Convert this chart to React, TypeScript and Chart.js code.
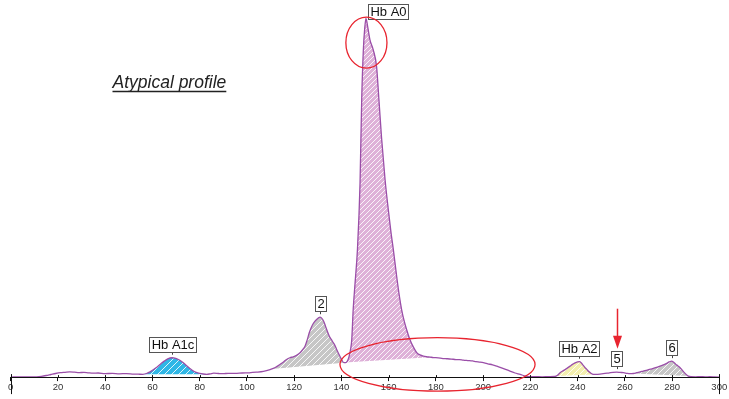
import React, { useEffect, useRef } from 'react';
import { Chart, registerables } from 'chart.js';

Chart.register(...registerables);

// Chromatogram trace: retention time (s) and detector signal
const retentionTime = [
  0, 4, 8, 11, 13, 15, 17, 19, 21, 23, 25, 27, 29, 31, 33, 35, 37, 40, 43, 46, 49, 52, 54, 56,
  57.5, 59, 60.5, 62, 63.5, 65, 66.5, 68.3, 69.5, 71, 72.5, 74, 75.5, 77, 78.5, 80, 81.5, 83,
  84.5, 86, 88, 90, 92, 95, 98, 101, 104, 107, 109.8, 112, 114, 115.5, 116.8, 118.2, 119.6, 121,
  122.5, 123.6, 124.6, 125.5, 126.4, 127.3, 128.1, 129.5, 131, 132.1, 133, 133.5, 134.9, 135.8,
  136.6, 137.3, 138, 138.9, 139.7, 140.4, 141.1, 141.7, 142.2, 142.8, 143.3, 143.9, 144.4, 145,
  145.8, 146.8, 147.9, 148.6, 149.3, 149.9, 150.4, 151.2, 152.1, 153.5, 154.9, 155.9, 157, 158.5,
  160, 161, 162, 163.4, 164.5, 165.5, 166.5, 167.6, 169, 170.5, 171.9, 173.3, 174.7, 176, 177.5,
  179, 181, 183, 184.6, 186.5, 188.5, 190, 191.6, 193.5, 195.5, 197, 198.7, 200.5, 202, 204,
  205.8, 207.5, 209.5, 211.4, 213.5, 215.7, 217.5, 219.9, 222, 225, 228, 230.4, 231.5, 232.6,
  234, 235, 236.8, 238, 239.2, 240.7, 241.6, 242.3, 243.1, 243.9, 244.6, 245.3, 246.7, 248.5,
  250.9, 253.5, 255, 256.6, 258, 259.5, 261, 262.2, 263.6, 265, 266.5, 267.8, 269.5, 271, 273,
  274.9, 276.3, 277.5, 278.8, 279.8, 280.7, 281.5, 282.5, 283.4, 284.3, 285.2, 286.2, 286.9, 288,
  290, 292, 294, 296, 298, 300,
];
const signal = [
  0, 0.2, 0.1, 0.3, 0.8, 1.6, 2.6, 3.6, 4.4, 4.8, 5.2, 4.9, 4.5, 4.7, 4.2, 3.9, 4.1, 3.5, 3.7, 3.3, 3.5, 3.0, 2.9, 2.8,
  3.6, 5.2, 7.6, 10.2, 13.2, 16, 18.3, 19.4, 19.1, 17.6, 15.4, 12.4, 9.3, 6.6, 4.8, 3.7, 3.1, 2.8,
  3.3, 3.9, 3.6, 3.4, 3.8, 3.7, 4.1, 4.3, 4.9, 5.8, 7.6, 9.6, 12.7, 15.2, 17.7, 19.4, 20.3, 21.8,
  24.4, 27.5, 31, 37, 44.4, 50, 53.7, 57.7, 60, 57.7, 53, 49.4, 41, 37.5,
  34.4, 31.5, 27.7, 23.2, 19.4, 16.2, 14.4, 14.5, 15, 17.3, 21, 28, 37.7, 67.7,
  94.4, 127.7, 194.4, 277.7, 327.7, 350, 359.4, 350, 337.7, 327.7, 311, 277.7, 240, 197.7,
  165, 145, 127.7, 101, 82, 67.7, 57, 47.7, 37.7, 30, 24.4, 22.2, 21, 20.4, 20,
  19.6, 19.2, 18.6, 18.4, 18.1, 17.6, 17.5, 17, 16.6, 16.2, 15.5, 15, 14.2, 13.3, 12.3,
  11, 9.6, 7.8, 6, 4.1, 2.7, 1.3, 0.4, 0.5, 0.3, 0.5, 0.6, 1.8, 4.4,
  6.5, 8, 11, 13, 14.6, 15.4, 14.2, 12, 9.6, 7.7, 5.8, 4.5, 2.7, 2.8,
  3.4, 4.3, 4.8, 5, 4.7, 4.4, 3.7, 3.4, 3.6, 4.4, 5.2, 6, 7, 8, 9.4,
  11, 12.3, 13.5, 15.2, 16, 14.8, 13, 11.2, 9.4, 7, 4.5, 2.2, 1, 0.4,
  0.3, 0.5, 0.2, 0.4, 0.2, 0,
];

// Axis ticks
const tickStep = 20;
const timeMin = 0;
const timeMax = 300;

// Peak labels and their apex retention times
const peakNames = ['Hb A1c', '2', 'Hb A0', 'Hb A2', '5', '6'];
const peakTimes = [68.3, 131, 150.4, 240.7, 256.6, 279.8];

// Integrated areas: start/end times and the baseline signal at each end
const areaStart = [56, 110.5, 141.5, 231, 263.6];
const areaEnd = [83, 141.1, 177.5, 246.7, 286.9];
const areaBaseStart = [2.8, 8, 14.5, 1.2, 3.6];
const areaBaseEnd = [2.8, 14.4, 20, 2.7, 1];

const areaColors = ['#2fb7e6', '#c6c6c6', '#deb1d8', '#f3efae', '#c6c6c6'];
const areaStripeGap = [7, 6, 5, 6, 6];
const traceColor = '#9a4ea8';
const markColor = '#e8242f';
const FONT = '"Liberation Sans", Arial, Helvetica, sans-serif';

function hatch(color: string, gap: number): CanvasPattern | string {
  const c = document.createElement('canvas');
  c.width = gap;
  c.height = gap;
  const g = c.getContext('2d');
  if (!g) return color;
  g.fillStyle = color;
  g.fillRect(0, 0, gap, gap);
  g.strokeStyle = 'rgba(255,255,255,0.85)';
  g.lineWidth = 1;
  g.beginPath();
  g.moveTo(0, gap);
  g.lineTo(gap, 0);
  g.moveTo(-1, 1);
  g.lineTo(1, -1);
  g.moveTo(gap - 1, gap + 1);
  g.lineTo(gap + 1, gap - 1);
  g.stroke();
  const p = g.createPattern(c, 'repeat');
  return p || color;
}

function signalAt(t: number): number {
  const i = retentionTime.indexOf(t);
  return i >= 0 ? signal[i] : 0;
}

const overlay = {
  id: 'hplcOverlay',
  afterDraw(chart: any) {
    const { ctx, scales } = chart;
    const xs = scales.x;
    const ys = scales.y;
    const px = (v: number) => xs.getPixelForValue(v);
    const py = (v: number) => ys.getPixelForValue(v);
    const axisY = py(0);

    ctx.save();

    // tick marks cross the axis line; end ticks run long
    ctx.strokeStyle = '#111';
    ctx.lineWidth = 1;
    for (let t = timeMin; t <= timeMax; t += tickStep) {
      const x = Math.round(px(t)) + 0.5;
      ctx.beginPath();
      if (t === timeMin || t === timeMax) {
        ctx.moveTo(x, axisY - 3);
        ctx.lineTo(x, axisY + 17);
      } else {
        ctx.moveTo(x, axisY - 2);
        ctx.lineTo(x, axisY);
      }
      ctx.stroke();
    }

    // peak labels
    ctx.font = `13px ${FONT}`;
    ctx.textBaseline = 'middle';
    ctx.textAlign = 'center';
    peakNames.forEach((name, i) => {
      const t = peakTimes[i];
      const ax = px(t);
      const ay = py(signalAt(t));
      const w = Math.round(ctx.measureText(name).width) + 4;
      const h = 15;
      let left: number;
      let top: number;
      if (name === 'Hb A0') {
        left = ax + 2;
        top = ay - h + 1;
      } else {
        left = ax - w / 2;
        top = ay - 6 - h;
        ctx.strokeStyle = '#444';
        ctx.beginPath();
        ctx.moveTo(Math.round(ax) + 0.5, top + h);
        ctx.lineTo(Math.round(ax) + 0.5, top + h + 3);
        ctx.stroke();
      }
      left = Math.round(left) + 0.5;
      top = Math.round(top) + 0.5;
      ctx.fillStyle = '#fff';
      ctx.fillRect(left, top, w, h);
      ctx.strokeStyle = '#555';
      ctx.strokeRect(left, top, w, h);
      ctx.fillStyle = '#111';
      ctx.fillText(name, left + w / 2, top + h / 2 + 0.5);
    });

    // highlighted regions
    ctx.strokeStyle = markColor;
    ctx.lineWidth = 1.3;
    ctx.beginPath();
    ctx.ellipse(px(150.6), py(335), px(150.6 + 8.7) - px(150.6), 25.5, 0, 0, Math.PI * 2);
    ctx.stroke();
    ctx.beginPath();
    ctx.ellipse(px(180.7), py(12.7), px(180.7 + 41.3) - px(180.7), 26.7, 0, 0, Math.PI * 2);
    ctx.stroke();

    // arrow towards peak 5
    const arX = Math.round(px(256.6)) + 0.5;
    const arTop = py(68.5);
    const arTip = py(28.5);
    ctx.strokeStyle = markColor;
    ctx.fillStyle = markColor;
    ctx.lineWidth = 1.5;
    ctx.beginPath();
    ctx.moveTo(arX, arTop);
    ctx.lineTo(arX, arTip - 10);
    ctx.stroke();
    ctx.beginPath();
    ctx.moveTo(arX - 4.5, arTip - 13);
    ctx.lineTo(arX + 4.5, arTip - 13);
    ctx.lineTo(arX, arTip);
    ctx.closePath();
    ctx.fill();

    // caption
    ctx.font = `italic 17.5px ${FONT}`;
    ctx.textAlign = 'left';
    ctx.textBaseline = 'alphabetic';
    ctx.fillStyle = '#222';
    const caption = 'Atypical profile';
    const cx = 112.5;
    const cy = 87.5;
    ctx.fillText(caption, cx, cy);
    const cw = ctx.measureText(caption).width;
    ctx.strokeStyle = '#222';
    ctx.lineWidth = 1.5;
    ctx.beginPath();
    ctx.moveTo(cx, cy + 4);
    ctx.lineTo(cx + cw, cy + 4);
    ctx.stroke();

    ctx.restore();
  },
};

export default function App() {
  const canvasRef = useRef<HTMLCanvasElement | null>(null);

  useEffect(() => {
    const canvas = canvasRef.current;
    if (!canvas) return;

    const trace = retentionTime.map((t, i) => ({ x: t, y: signal[i] }));

    const datasets: any[] = [
      {
        label: 'trace',
        data: trace,
        borderColor: traceColor,
        borderWidth: 1.3,
        pointRadius: 0,
        cubicInterpolationMode: 'monotone',
        fill: false,
      },
    ];

    areaStart.forEach((s, i) => {
      const e = areaEnd[i];
      const top = [
        { x: s, y: areaBaseStart[i] },
        ...trace.filter((p) => p.x > s && p.x < e),
        { x: e, y: areaBaseEnd[i] },
      ];
      datasets.push({
        label: `area${i}`,
        data: top,
        borderWidth: 0,
        borderColor: 'rgba(0,0,0,0)',
        pointRadius: 0,
        cubicInterpolationMode: 'monotone',
        backgroundColor: hatch(areaColors[i], areaStripeGap[i]),
        fill: '+1',
      });
      datasets.push({
        label: `base${i}`,
        data: [
          { x: s, y: areaBaseStart[i] },
          { x: e, y: areaBaseEnd[i] },
        ],
        borderWidth: 0,
        borderColor: 'rgba(0,0,0,0)',
        pointRadius: 0,
        fill: false,
      });
    });

    const chart = new Chart(canvas, {
      type: 'line',
      data: { datasets },
      options: {
        animation: false,
        responsive: false,
        events: [],
        layout: { padding: { top: 7.7, bottom: 4.5, left: 10.7, right: 9.7 } },
        plugins: { legend: { display: false }, tooltip: { enabled: false } },
        scales: {
          x: {
            type: 'linear',
            min: timeMin,
            max: timeMax,
            border: { display: true, color: '#111', width: 1 },
            grid: { drawOnChartArea: false, drawTicks: true, tickLength: 4, color: '#111' },
            ticks: {
              stepSize: tickStep,
              maxRotation: 0,
              autoSkip: false,
              padding: 1,
              color: '#333',
              font: { family: FONT, size: 9.5 },
            },
          },
          y: {
            display: false,
            min: 0,
            max: 370,
          },
        },
      },
      plugins: [overlay],
    });

    return () => chart.destroy();
  }, []);

  return (
    <div style={{ position: 'fixed', left: 0, top: 0, width: 729, height: 399, background: '#fff' }}>
      <canvas ref={canvasRef} width={729} height={399} />
    </div>
  );
}
